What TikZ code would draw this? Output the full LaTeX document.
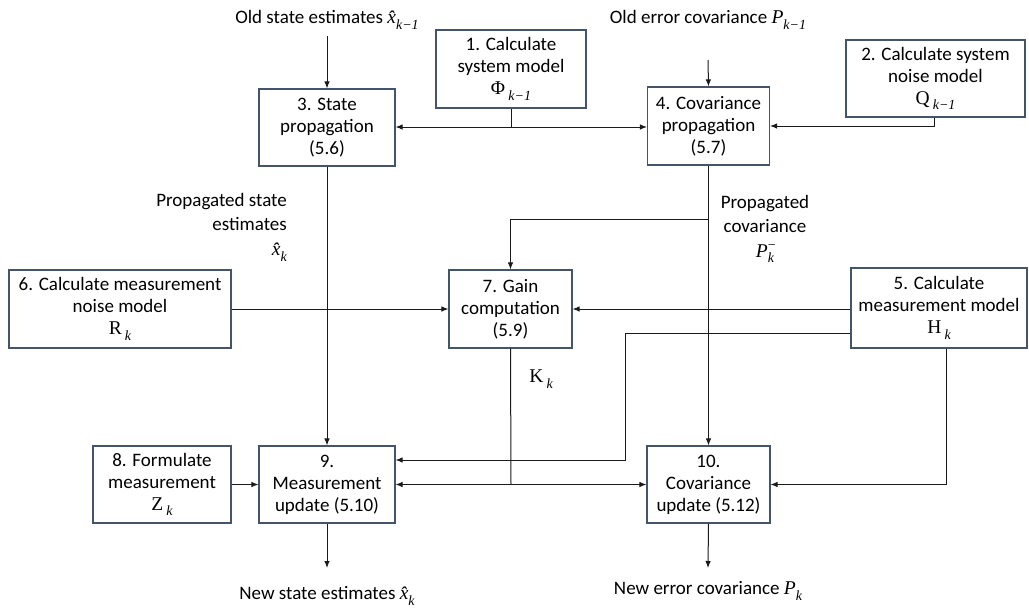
\documentclass[tikz,border=0pt]{standalone}
\usepackage{fontspec}
\setmainfont{Carlito}
\newfontfamily\mf{Liberation Serif}
\usetikzlibrary{arrows.meta}
\definecolor{boxline}{HTML}{44546A}
\definecolor{conn}{HTML}{1A1A1A}
\newcommand\mv[1]{{\mf\fontsize{19.5}{22}\selectfont\itshape #1}}
\newcommand\mup[1]{{\mf\fontsize{19.5}{22}\selectfont #1}}
\newcommand\msub[1]{\raisebox{-0.3em}{\mf\fontsize{14}{14}\selectfont\itshape #1}}
\newcommand\xhat{\mv{\^{x}}}
\begin{document}
\begin{tikzpicture}[x=1pt,y=-1pt,
  every node/.style={font=\fontsize{19}{22}\selectfont, text=black},
  blk/.style={draw=boxline, line width=1.1pt, fill=white, align=center, inner sep=0pt},
  lbl/.style={align=center, inner sep=1pt},
  wide/.style={font=\fontsize{19}{24.5}\selectfont},
  arr/.style={draw=conn, line width=1pt, -{Latex[length=7pt,width=5.5pt]}},
  ln/.style={draw=conn, line width=1pt}]
\useasboundingbox (0,0) rectangle (1029,608);
% boxes
\node[blk, minimum width=136pt, minimum height=77pt] (b3) at (327,127.5) {3. State\\propagation\\(5.6)};
\node[blk, minimum width=150pt, minimum height=78pt] (b1) at (511,69) {1. Calculate\\system model\\\mup{Φ}\,\msub{k−1}};
\node[blk, minimum width=122pt, minimum height=78pt] (b4) at (708.5,126) {4. Covariance\\propagation\\(5.7)};
\node[blk, minimum width=179pt, minimum height=77pt] (b2) at (935.5,78.5) {2. Calculate system\\noise model\\\mup{Q}\,\msub{k−1}};
\node[blk, minimum width=222pt, minimum height=78pt] (b6) at (120,309) {6. Calculate measurement\\noise model\\\mup{R}\,\msub{k}};
\node[blk, minimum width=123pt, minimum height=78pt] (b7) at (510.5,309) {7. Gain\\computation\\(5.9)};
\node[blk, minimum width=176pt, minimum height=80pt] (b5) at (939,308) {5. Calculate\\measurement model\\\mup{H}\,\msub{k}};
\node[blk, minimum width=138pt, minimum height=77pt] (b8) at (162,484.5) {8. Formulate\\measurement\\\mup{Z}\,\msub{k}};
\node[blk, minimum width=136pt, minimum height=77pt] (b9) at (327,484.5) {9.\\Measurement\\update (5.10)};
\node[blk, minimum width=123pt, minimum height=77pt] (b10) at (708.5,484.5) {10.\\Covariance\\update (5.12)};
% labels
\node[lbl] (lA) at (327,20) {Old state estimates \xhat\msub{k−1}};
\node[lbl] (lB) at (708,20) {Old error covariance \mv{P}\msub{k−1}};
\node[lbl, wide, align=right, anchor=north east] (lC) at (288,192) {Propagated state\\estimates\\\xhat\msub{k}};
\node[lbl, wide] (lD) at (765,229) {Propagated\\covariance\\\mv{P}\makebox[0pt][l]{\raisebox{0.4em}{\mf\fontsize{14}{14}\selectfont −}}\msub{k}};
\node[lbl] (lK) at (541,379) {\mup{K}\,\msub{k}};
\node[lbl] (lE) at (327,596) {New state estimates \xhat\msub{k}};
\node[lbl] (lF) at (708,591) {New error covariance \mv{P}\msub{k}};
% coordinates
\coordinate (j1) at (511,127);
\coordinate (c4in) at (708,60);
\coordinate (j2) at (708,219);
\coordinate (h1) at (625,333);
\coordinate (h2) at (625,460);
\coordinate (j3) at (511,484.5);
\coordinate (o9) at (327,568);
\coordinate (o10) at (708,568);
% connectors
\draw[arr] (327,36) -- (b3.north);
\draw[arr] (c4in) -- (b4.north);
\draw[ln] (b1.south) -- (j1);
\draw[arr] (j1) -- (b3.east |- j1);
\draw[arr] (j1) -- (b4.west |- j1);
\draw[arr] ([xshift=-1.5pt]b2.south) |- (b4.east);
\draw[arr] (b3.south) -- (b9.north);
\draw[arr] (b4.south) -- (b10.north);
\draw[arr] (j2) -| (b7.north);
\draw[arr] (b6.east) -- (b7.west);
\draw[arr] (b5.west |- b7.east) -- (b7.east);
\draw[arr] (b5.west |- h1) -- (h1) -- (h2) -- (b9.east |- h2);
\draw[ln] (b7.south) -- (j3);
\draw[arr] (j3) -- (b9.east);
\draw[arr] (j3) -- (b10.west);
\draw[arr] ([xshift=7pt]b5.south) |- (b10.east);
\draw[arr] (b8.east) -- (b9.west);
\draw[arr] (b9.south) -- (o9);
\draw[arr] (b10.south) -- (o10);
\end{tikzpicture}
\end{document}
